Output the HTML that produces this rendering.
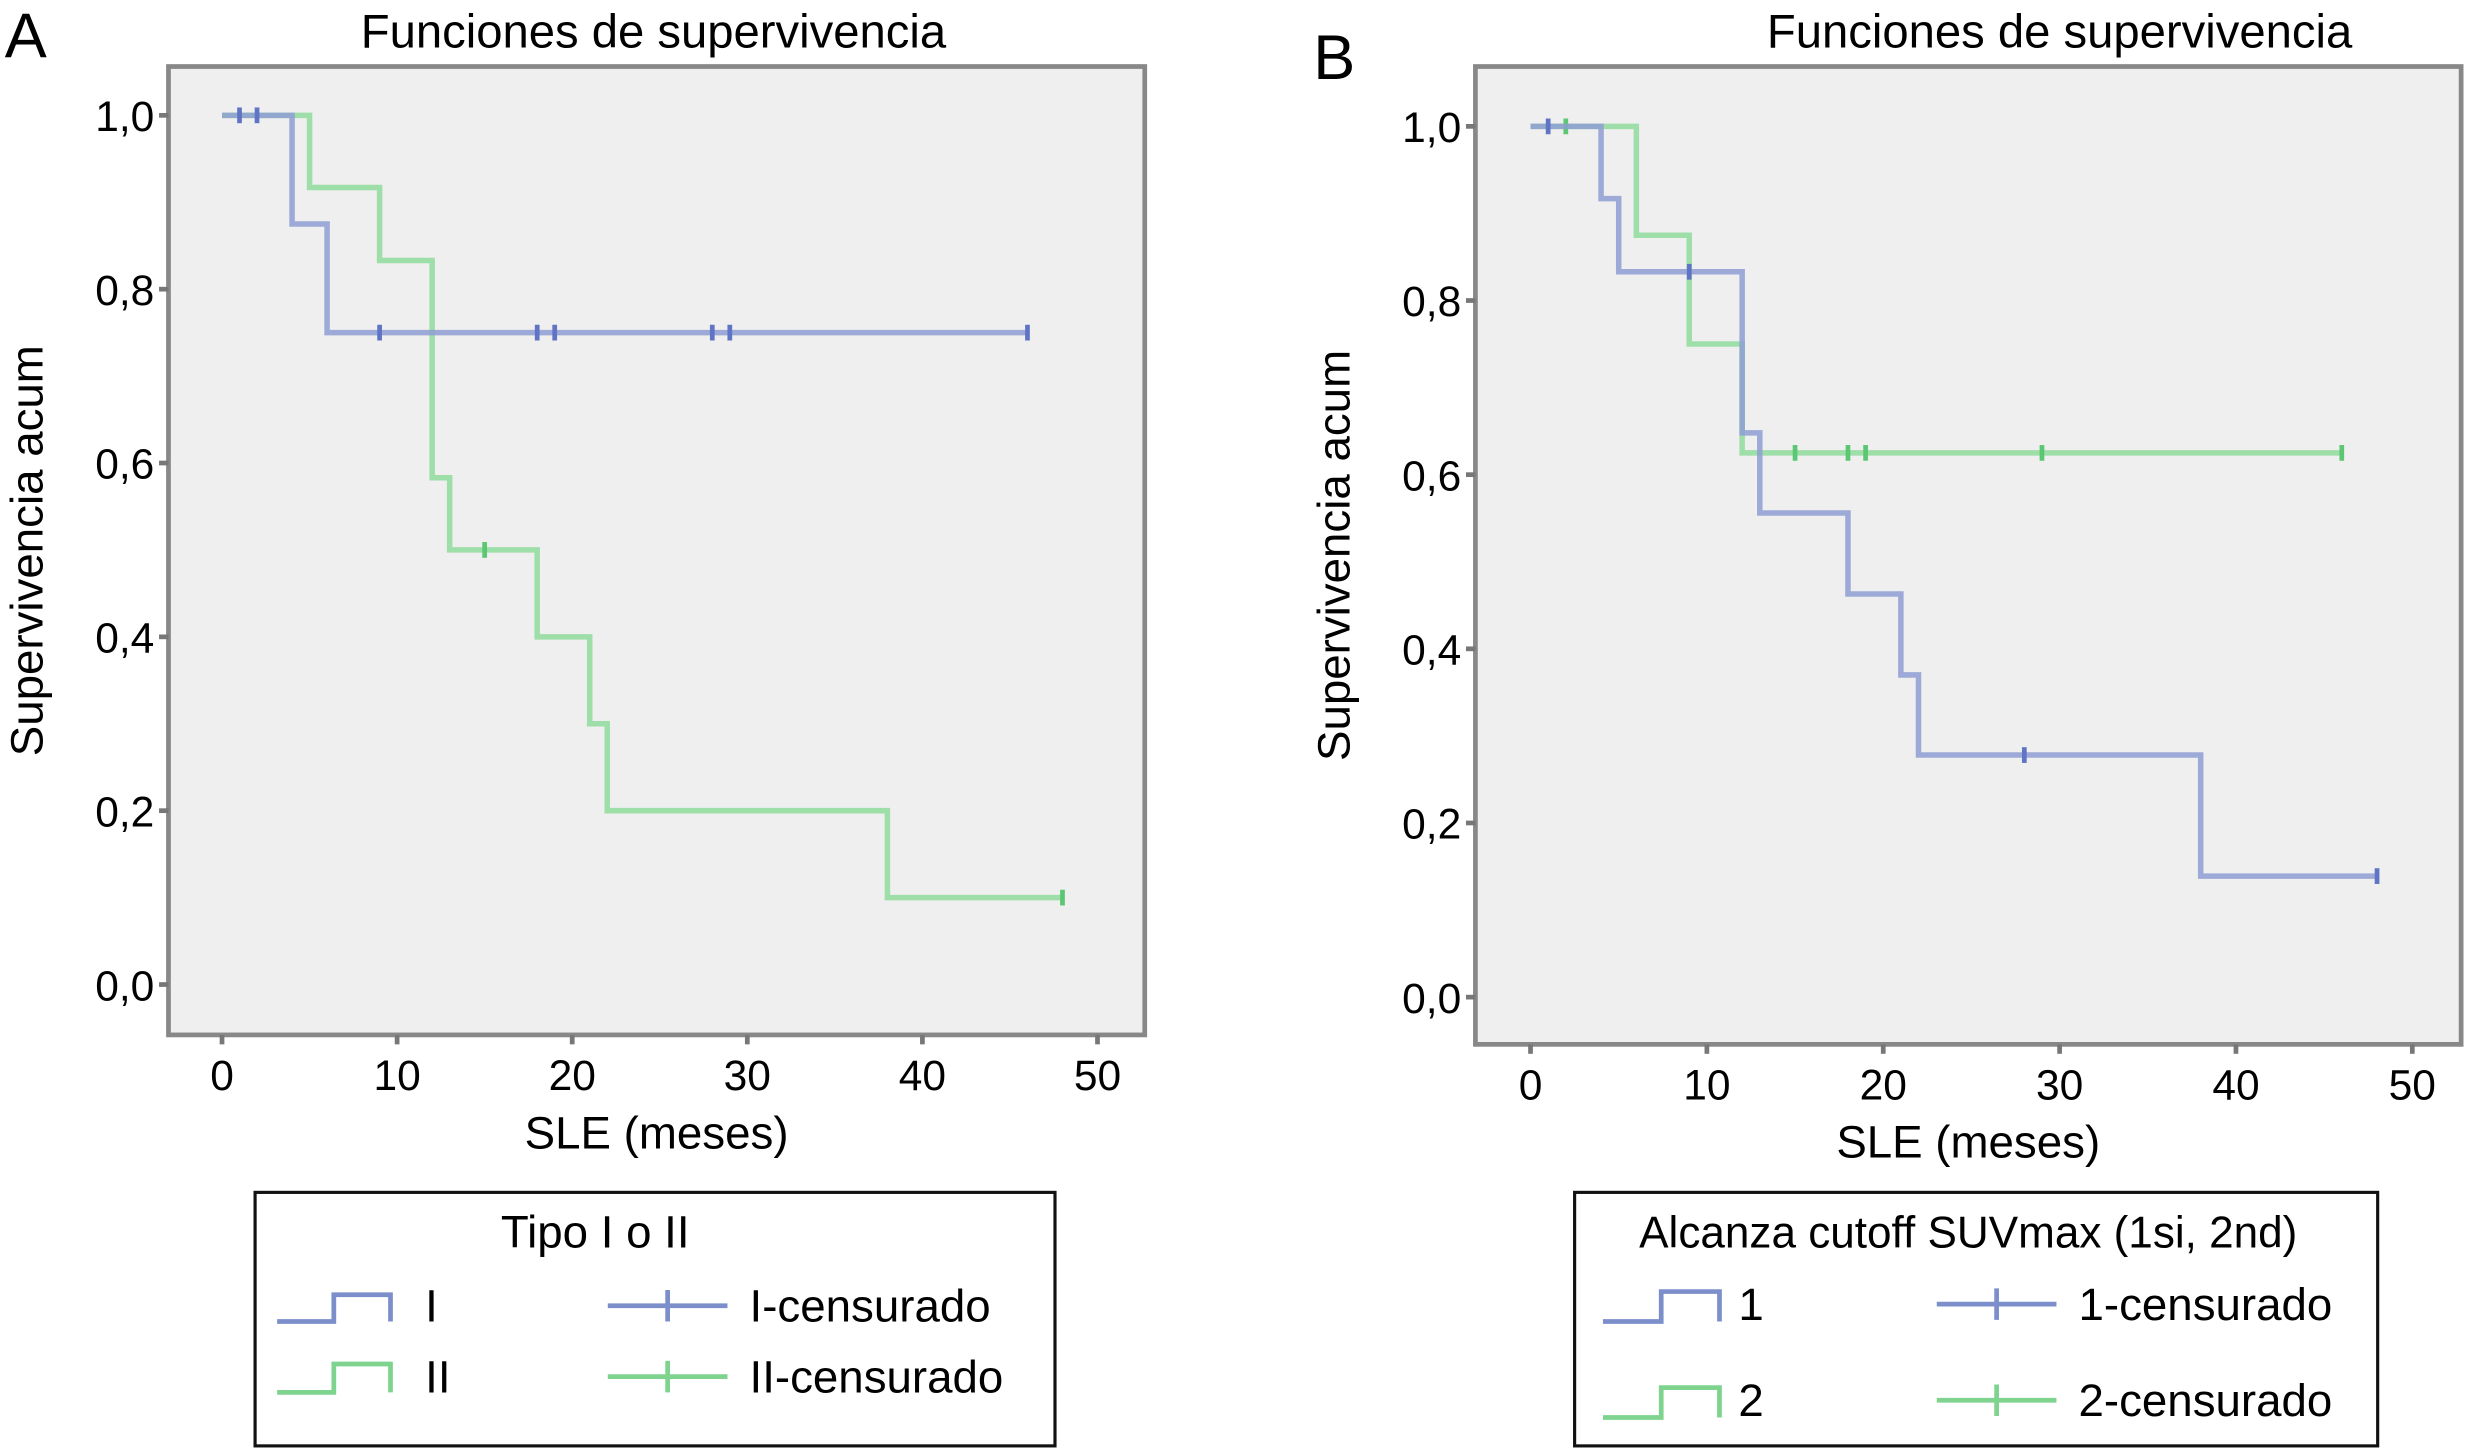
<!DOCTYPE html>
<html><head><meta charset="utf-8"><style>
html,body{margin:0;padding:0;background:#fff;}
svg{display:block;font-family:"Liberation Sans",Arial,sans-serif;}
</style></head><body>
<svg id="root" width="2469" height="1451" viewBox="0 0 1568 921" xmlns="http://www.w3.org/2000/svg">
<text x="3" y="36" font-size="40">A</text>
<text x="834" y="50" font-size="40">B</text>
<g id="pa"></g>
<g id="pb"></g>

<g>
<rect x="162" y="757" width="508" height="161" fill="#fff" stroke="#111" stroke-width="2"/>
<text x="378" y="792" font-size="29" text-anchor="middle">Tipo I o II</text>
<path d="M176 839 H212 V822 H248 V839" fill="none" stroke="#7d8fcb" stroke-width="3"/>
<text x="270" y="839" font-size="29">I</text>
<path d="M176 884 H212 V866 H248 V884" fill="none" stroke="#7ed48e" stroke-width="3"/>
<text x="270" y="884" font-size="29">II</text>
<path d="M386 829 H462 M424 819 V839" stroke="#7d8fcb" stroke-width="3"/>
<text x="476" y="839" font-size="29">I-censurado</text>
<path d="M386 874 H462 M424 864 V884" stroke="#7ed48e" stroke-width="3"/>
<text x="476" y="884" font-size="29">II-censurado</text>
</g>
<g>
<rect x="1000" y="757" width="510" height="161" fill="#fff" stroke="#111" stroke-width="2"/>
<text x="1250" y="792" font-size="28" text-anchor="middle">Alcanza cutoff SUVmax (1si, 2nd)</text>
<path d="M1018 839 H1055 V820 H1092 V839" fill="none" stroke="#7d8fcb" stroke-width="3"/>
<text x="1104" y="838" font-size="29">1</text>
<path d="M1018 900 H1055 V881 H1092 V900" fill="none" stroke="#7ed48e" stroke-width="3"/>
<text x="1104" y="899" font-size="29">2</text>
<path d="M1230 828 H1306 M1268 818 V838" stroke="#7d8fcb" stroke-width="3"/>
<text x="1320" y="838" font-size="29">1-censurado</text>
<path d="M1230 889 H1306 M1268 879 V899" stroke="#7ed48e" stroke-width="3"/>
<text x="1320" y="899" font-size="29">2-censurado</text>
</g>
</svg>
<script>
// Panel A data
const aBlueTimes=[0,4,6,46];
const aBlueSurv=[1.0,0.875,0.75,0.75];
const aBlueCensT=[1,2,9,18,19,28,29,46];
const aBlueCensS=[1,1,0.75,0.75,0.75,0.75,0.75,0.75];
const aGreenTimes=[0,5,9,12,13,18,21,22,38,48];
const aGreenSurv=[1.0,0.917,0.833,0.583,0.5,0.4,0.3,0.2,0.1,0.1];
const aGreenCensT=[15,48];
const aGreenCensS=[0.5,0.1];
// Panel B data
const bBlueTimes=[0,4,5,12,13,18,21,22,38,48];
const bBlueSurv=[1.0,0.917,0.833,0.648,0.556,0.463,0.37,0.278,0.139,0.139];
const bBlueCensT=[1,9,28,48];
const bBlueCensS=[1,0.833,0.278,0.139];
const bGreenTimes=[0,6,9,12,46];
const bGreenSurv=[1.0,0.875,0.75,0.625,0.625];
const bGreenCensT=[2,15,18,19,29,46];
const bGreenCensS=[1,0.625,0.625,0.625,0.625,0.625];
const xTicks=[0,10,20,30,40,50];
const yTicks=[0,0.2,0.4,0.6,0.8,1.0];
const yTickLabels=["0,0","0,2","0,4","0,6","0,8","1,0"];

const NS="http://www.w3.org/2000/svg";
function mk(parent,tag,attrs,txt){const e=document.createElementNS(NS,tag);for(const k in attrs)e.setAttribute(k,attrs[k]);if(txt!=null)e.textContent=txt;parent.appendChild(e);return e;}

function panel(g,fr,x0,x50,y1,y0,series,titleX){
  const sx=v=>x0+(x50-x0)*v/50, sy=v=>y0+(y1-y0)*v;
  const t=mk(g,'text',{x:titleX,y:30,'font-size':30,'text-anchor':'middle'},'Funciones de supervivencia');
  
  
  const r=mk(g,'rect',{x:fr[0],y:fr[1],width:fr[2]-fr[0],height:fr[3]-fr[1],fill:'#efefef',stroke:'#888','stroke-width':3});
  
  
  yTicks.forEach((v,i)=>{
    const tk=mk(g,'line',{x1:fr[0]-6,x2:fr[0],y1:sy(v),y2:sy(v),stroke:'#777','stroke-width':3});
    
    
    const l=mk(g,'text',{x:fr[0]-9,y:sy(v)+10,'font-size':27,'text-anchor':'end'},yTickLabels[i]);
    
    
  });
  xTicks.forEach(v=>{
    const tk=mk(g,'line',{x1:sx(v),x2:sx(v),y1:fr[3],y2:fr[3]+6,stroke:'#777','stroke-width':3});
    
    
    const l=mk(g,'text',{x:sx(v),y:fr[3]+35,'font-size':27,'text-anchor':'middle'},String(v));
    
    
  });
  const xt=mk(g,'text',{x:(fr[0]+fr[2])/2,y:fr[3]+72,'font-size':29,'text-anchor':'middle'},'SLE (meses)');
  
  
  const cy=(fr[1]+fr[3])/2, cx=fr[0]-80;
  const yt=mk(g,'text',{x:cx,y:cy,'font-size':29,'text-anchor':'middle',transform:`rotate(-90 ${cx} ${cy})`},'Supervivencia acum');
  
  
  series.forEach(s=>{
    let d=`M${sx(s.t[0])} ${sy(s.s[0])}`;
    for(let i=1;i<s.t.length;i++){d+=` H${sx(s.t[i])} V${sy(s.s[i])}`;}
    const p=mk(g,'path',{d,fill:'none',stroke:s.c,'stroke-width':3.5,'stroke-opacity':0.85});
    
    
    s.ct.forEach((t,i)=>{
      const m=mk(g,'line',{x1:sx(t),x2:sx(t),y1:sy(s.cs[i])-5,y2:sy(s.cs[i])+5,stroke:s.mc,'stroke-width':3});
      
      
    });
  });
}
const BL='#8e9dd3',BM='#5f74c4',GR='#8fdc9c',GM='#5cc772';
panel(document.getElementById('pa'),[107,42,727,657],141,697,73,625,[
 {t:aGreenTimes,s:aGreenSurv,ct:aGreenCensT,cs:aGreenCensS,c:GR,mc:GM,n:'series-ii'},
 {t:aBlueTimes,s:aBlueSurv,ct:aBlueCensT,cs:aBlueCensS,c:BL,mc:BM,n:'series-i'}],415);
panel(document.getElementById('pb'),[937,42,1563,663],972,1532,80,633,[
 {t:bGreenTimes,s:bGreenSurv,ct:bGreenCensT,cs:bGreenCensS,c:GR,mc:GM,n:'series-2'},
 {t:bBlueTimes,s:bBlueSurv,ct:bBlueCensT,cs:bBlueCensS,c:BL,mc:BM,n:'series-1'}],1308);
</script>
</body></html>
